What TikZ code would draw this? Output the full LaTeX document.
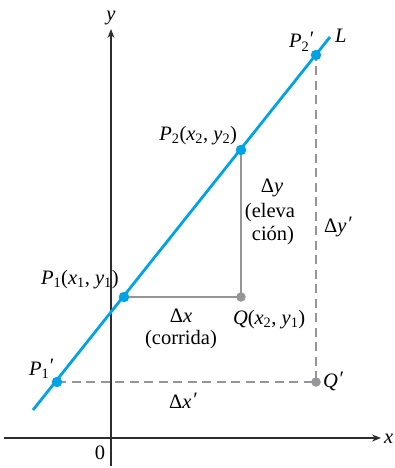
\documentclass[tikz,border=0pt]{standalone}
\usepackage{fontspec}
\setmainfont{Liberation Serif}
\usetikzlibrary{arrows.meta}
\definecolor{lineblue}{RGB}{0,163,228}
\definecolor{dotgray}{RGB}{150,150,152}
\definecolor{rulegray}{RGB}{150,150,152}
\definecolor{axisgray}{RGB}{45,45,45}
\newcommand\iv[1]{\textit{#1}}
\newcommand\sbs[1]{\textsubscript{#1}}
\newcommand\prm{\kern0.5pt\raisebox{0.05em}{\textit{\char"2032}}}
\newcommand\subpr[1]{\textsubscript{#1}\kern-0.5pt\raisebox{0.12em}{\textit{\char"2032}}}
\tikzset{
  lbl/.style={inner sep=0pt, outer sep=0pt, font=\fontsize{20.5}{24}\selectfont},
  axis/.style={draw=axisgray, line width=1.3pt, -{Stealth[length=9pt,width=7pt,inset=3pt]}},
  bline/.style={draw=lineblue, line width=2.8pt},
  gline/.style={draw=rulegray, line width=1.4pt},
  dline/.style={draw=rulegray, line width=1.3pt, dash pattern=on 9pt off 5.5pt},
  bdot/.style={circle, fill=lineblue, inner sep=0pt, minimum size=10.5pt},
  gdot/.style={circle, fill=dotgray, inner sep=0pt, minimum size=9.5pt}
}
\begin{document}
\begin{tikzpicture}[x=1pt,y=-1pt]
\useasboundingbox (0,0) rectangle (394,468);
% coordinates
\coordinate (ybot) at (111,466);
\coordinate (ytop) at (111,29);
\coordinate (xl) at (4,438);
\coordinate (xr) at (381,438);
\coordinate (Lb) at (33,410);
\coordinate (Lt) at (330,37);
\coordinate (cP1) at (124,297);
\coordinate (cP2) at (241,150);
\coordinate (cQ) at (241,297);
\coordinate (cP1p) at (57,382);
\coordinate (cP2p) at (316,55);
\coordinate (cQp) at (316,382);
% axes
\draw[axis] (ybot) -- (ytop);
\draw[axis] (xl) -- (xr);
% rise/run
\draw[gline] (cP1) -- (cQ) -- (cP2);
\draw[dline] (cP1p) -- (cQp) -- (cP2p);
% line L
\draw[bline] (Lb) -- (Lt);
% dots
\node[gdot] (Q) at (cQ) {};
\node[gdot] (Qp) at (cQp) {};
\node[bdot] (P1) at (cP1) {};
\node[bdot] (P2) at (cP2) {};
\node[bdot] (P1p) at (cP1p) {};
\node[bdot] (P2p) at (cP2p) {};
% labels
\node[lbl, anchor=base] (ylab) at (111,21) {\iv{y}};
\node[lbl, anchor=base west] (xlab) at (384,443) {\iv{x}};
\node[lbl, anchor=base] (zero) at (100,459) {0};
\node[lbl, anchor=base west] (P2plab) at (289,48) {\iv{P}\subpr{2}};
\node[lbl, anchor=base west] (Llab) at (335,43) {\iv{L}};
\node[lbl, anchor=base east] (P2lab) at (237,140) {\iv{P}\sbs{2}(\iv{x}\sbs{2}, \iv{y}\sbs{2})};
\node[lbl, anchor=base west] (P1lab) at (41,284) {\iv{P}\sbs{1}(\iv{x}\sbs{1}, \iv{y}\sbs{1})};
\node[lbl, anchor=base west] (P1plab) at (29,375) {\iv{P}\subpr{1}};
\node[lbl, anchor=base west] (Qlab) at (233,324) {\iv{Q}(\iv{x}\sbs{2}, \iv{y}\sbs{1})};
\node[lbl, anchor=base west] (Qplab) at (323,387) {\iv{Q}\prm};
\node[lbl, anchor=base] (dx) at (181,322) {Δ\iv{x}};
\node[lbl, anchor=base] (run) at (181,344) {(corrida)};
\node[lbl, anchor=base] (dxp) at (183,408) {Δ\iv{x}\prm};
\node[lbl, anchor=base] (dy) at (272,192) {Δ\iv{y}};
\node[lbl, anchor=base] (rise1) at (270,217) {(eleva};
\node[lbl, anchor=base] (rise2) at (273,240) {ción)};
\node[lbl, anchor=base] (dyp) at (338,232) {Δ\iv{y}\prm};
\end{tikzpicture}
\end{document}
